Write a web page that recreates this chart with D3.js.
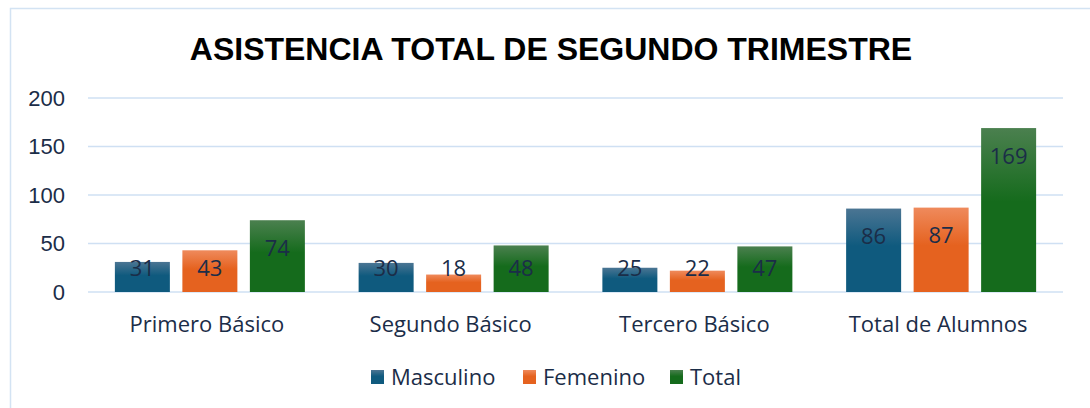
<!DOCTYPE html>
<html><head><meta charset="utf-8">
<script src="https://cdn.jsdelivr.net/npm/d3@7"></script>
<style>html,body{margin:0;padding:0;background:#fff;overflow:hidden}</style>
</head><body>
<svg id="c" width="1090" height="408"></svg>
<script>
const categories = ["Primero Básico", "Segundo Básico", "Tercero Básico", "Total de Alumnos"];
const seriesNames = ["Masculino", "Femenino", "Total"];
const masculino = [31, 30, 25, 86];
const femenino = [43, 18, 22, 87];
const total = [74, 48, 47, 169];
const yTicks = [0, 50, 100, 150, 200];
const title = "ASISTENCIA TOTAL DE SEGUNDO TRIMESTRE";

const seriesValues = [masculino, femenino, total];
const colors = [["#4b7593", "#0f5a7e"], ["#ef8a5c", "#e5621f"], ["#4b804f", "#156b1c"]];

const svg = d3.select("#c");
const W = 1090, H = 408;
svg.append("rect").attr("width", W).attr("height", H).attr("fill", "#fff");

const defs = svg.append("defs");
colors.forEach((c, i) => {
  const g = defs.append("linearGradient").attr("id", "g" + i).attr("x1", 0).attr("y1", 0).attr("x2", 0).attr("y2", 1);
  g.append("stop").attr("offset", "0%").attr("stop-color", c[0]);
  g.append("stop").attr("offset", "45%").attr("stop-color", c[1]);
  g.append("stop").attr("offset", "100%").attr("stop-color", c[1]);
});

// frame
svg.append("path").attr("d", "M10.5,408 V8.5 H1090").attr("fill", "none").attr("stroke", "#d3e3f3").attr("stroke-width", 1.5);

const x0 = d3.scaleBand().domain(categories).range([88, 1063]).paddingInner(0).paddingOuter(0);
const y = d3.scaleLinear().domain([0, 200]).range([292, 98]);

// grid
svg.append("g").selectAll("line").data(yTicks).join("line")
  .attr("x1", 88).attr("x2", 1063)
  .attr("y1", d => y(d)).attr("y2", d => y(d))
  .attr("stroke", "#cfe0f3").attr("stroke-width", 1.5);

// y tick labels
svg.append("g").selectAll("text").data(yTicks).join("text")
  .attr("x", 65).attr("y", d => y(d)).attr("dy", "0.35em")
  .attr("text-anchor", "end")
  .attr("font-family", "Liberation Sans, Arial, sans-serif")
  .attr("font-size", 22).attr("fill", "#1b2d48")
  .text(d => d);

// title
svg.append("text").attr("x", 551).attr("y", 60).attr("text-anchor", "middle")
  .attr("font-family", "Liberation Sans, Arial, sans-serif").attr("font-weight", "bold")
  .attr("font-size", 32).attr("fill", "#000").text(title);

const groupW = 190, barW = 55, gap = (groupW - 3 * barW) / 2;
const x1 = d3.scaleBand().domain(seriesNames).range([0, groupW]).paddingInner(gap / (barW + gap)).paddingOuter(0);

const g = svg.append("g");
categories.forEach((cat, ci) => {
  const cx = x0(cat) + x0.bandwidth() / 2;
  seriesNames.forEach((s, si) => {
    const v = seriesValues[si][ci];
    const bx = cx - groupW / 2 + x1(s);
    g.append("rect").attr("x", bx).attr("y", y(v)).attr("width", x1.bandwidth())
      .attr("height", y(0) - y(v)).attr("fill", `url(#g${si})`);
    const ly = Math.min(y(v) + 28, y(0) - 24);
    g.append("text").attr("x", bx + x1.bandwidth() / 2).attr("y", ly).attr("dy", "0.35em")
      .attr("text-anchor", "middle").attr("font-family", "Open Sans, sans-serif")
      .attr("font-size", 22).attr("fill", "#1b2d48").text(v);
  });
  g.append("text").attr("x", cx - 3).attr("y", 324).attr("dy", "0.35em")
    .attr("text-anchor", "middle").attr("font-family", "Open Sans, sans-serif")
    .attr("font-size", 22).attr("fill", "#1b2d48").text(cat);
});

// legend
const legX = [371, 523, 670];
seriesNames.forEach((s, i) => {
  svg.append("rect").attr("x", legX[i]).attr("y", 370).attr("width", 13).attr("height", 14).attr("fill", `url(#g${i})`);
  svg.append("text").attr("x", legX[i] + 20).attr("y", 377).attr("dy", "0.35em")
    .attr("font-family", "Open Sans, sans-serif").attr("font-size", 22).attr("fill", "#1b2d48").text(s);
});
</script>
</body></html>
